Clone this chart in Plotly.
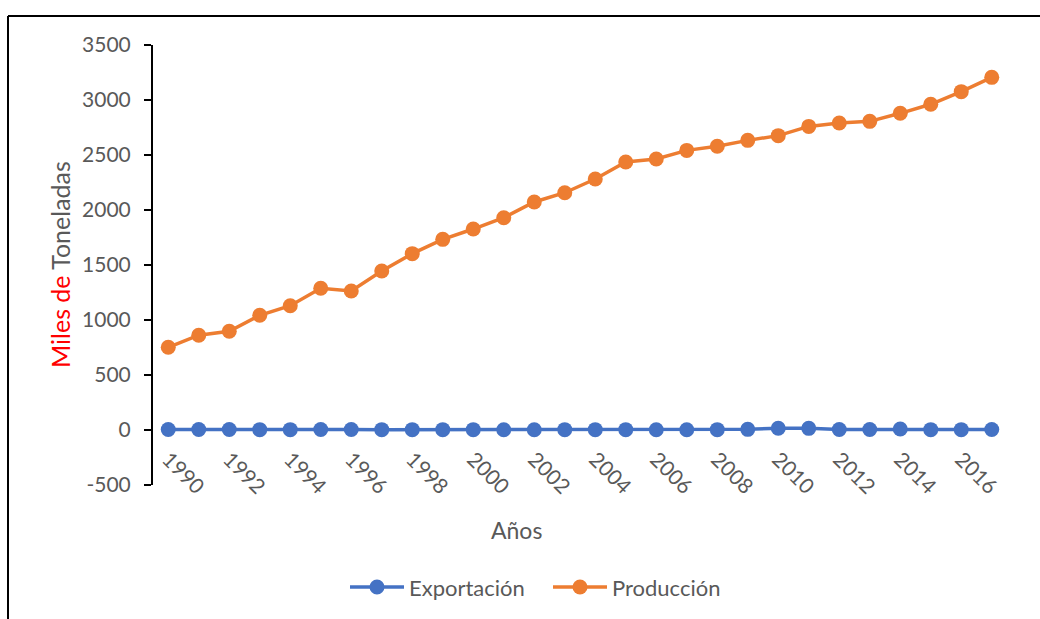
import plotly.graph_objects as go

years = list(range(1990, 2018))
produccion = [752, 862, 898, 1043, 1130, 1288, 1264, 1445, 1603, 1733, 1827, 1930,
              2073, 2157, 2282, 2436, 2464, 2542, 2579, 2633, 2676, 2760, 2791, 2806,
              2879, 2961, 3076, 3206]
exportacion = [4, 5, 4, 3, 3, 4, 4, 3, 3, 3, 3, 2, 2, 3, 3, 3, 2, 2, 3, 6, 16, 15,
               5, 4, 9, 3, 3, 4]
tick_years = years[::2]
tick_labels = [str(y) for y in tick_years]
y_ticks = list(range(-500, 3501, 500))
y_labels = [str(v) for v in y_ticks]
series_names = ["Exportación", "Producción"]

W, H = 1040, 619
L, R, T, B = 153, 1007, 45, 485
pw, ph = R - L, B - T

def px(x):
    return (x - L) / pw

def py(y):
    return (B - y) / ph

FONT = "Lato"
GRAY = "#595959"
BLUE = "#4472C4"
ORANGE = "#ED7D31"
colors = [BLUE, ORANGE]

fig = go.Figure()
for name, vals, col in zip(series_names, [exportacion, produccion], colors):
    fig.add_trace(go.Scatter(
        x=years, y=vals, name=name, mode="lines+markers",
        line=dict(color=col, width=3.5), marker=dict(color=col, size=15),
        showlegend=False,
    ))

fig.update_layout(
    width=W, height=H,
    margin=dict(l=L, r=W - R, t=T, b=H - B, pad=0),
    paper_bgcolor="white", plot_bgcolor="white",
    font=dict(family=FONT, size=21, color=GRAY),
    xaxis=dict(
        range=[1989.5, 2017.5], tickmode="array", tickvals=tick_years,
        ticktext=tick_labels, tickangle=45, showline=False, ticks="",
        showgrid=False, zeroline=False, anchor="free", position=500 / 4000,
        ticklabelstandoff=12,
        tickfont=dict(family=FONT, size=21, color=GRAY),
    ),
    yaxis=dict(
        range=[-500, 3500], tickmode="array", tickvals=y_ticks, ticktext=y_labels,
        showline=True, linecolor="black", linewidth=2,
        ticks="outside", ticklen=7, tickwidth=2, tickcolor="black",
        showgrid=False, zeroline=False, ticklabelstandoff=9,
        tickfont=dict(family=FONT, size=21, color=GRAY),
    ),
    yaxis2=dict(
        range=[-500, 3500], overlaying="y", matches="y", side="left",
        tickmode="array", tickvals=y_ticks, showticklabels=False,
        ticks="inside", ticklen=7, tickwidth=2, tickcolor="black",
        showline=False, showgrid=False, zeroline=False,
    ),
)

fig.add_annotation(
    text='<span style="color:#FF0000">Miles de</span> Toneladas',
    xref="paper", yref="paper", x=px(60), y=py(265), textangle=-90,
    showarrow=False, font=dict(family=FONT, size=25, color=GRAY),
    xanchor="center", yanchor="middle",
)
fig.add_annotation(
    text="Años", xref="paper", yref="paper", x=px(516), y=py(530),
    showarrow=False, font=dict(family=FONT, size=23, color=GRAY),
    xanchor="center", yanchor="middle",
)

# custom legend (long line symbols as in the reference)
leg_y = 587
for name, col, x0 in zip(series_names, colors, [350, 553]):
    fig.add_shape(type="line", xref="paper", yref="paper",
                  x0=px(x0), y0=py(leg_y), x1=px(x0 + 54), y1=py(leg_y),
                  line=dict(color=col, width=3.5))
    cx = x0 + 27
    fig.add_shape(type="circle", xref="paper", yref="paper",
                  x0=px(cx - 7.5), y0=py(leg_y + 7.5), x1=px(cx + 7.5), y1=py(leg_y - 7.5),
                  fillcolor=col, line=dict(color=col, width=0))
    fig.add_annotation(
        text=name, xref="paper", yref="paper", x=px(x0 + 57), y=py(leg_y),
        showarrow=False, font=dict(family=FONT, size=22, color=GRAY),
        xanchor="left", yanchor="middle",
    )

# outer chart border (top and left edges visible)
fig.add_shape(type="line", xref="paper", yref="paper",
              x0=px(8), y0=py(16), x1=px(1045), y1=py(16),
              line=dict(color="black", width=2))
fig.add_shape(type="line", xref="paper", yref="paper",
              x0=px(8), y0=py(16), x1=px(8), y1=py(625),
              line=dict(color="black", width=2))

fig.write_html("out.html")
